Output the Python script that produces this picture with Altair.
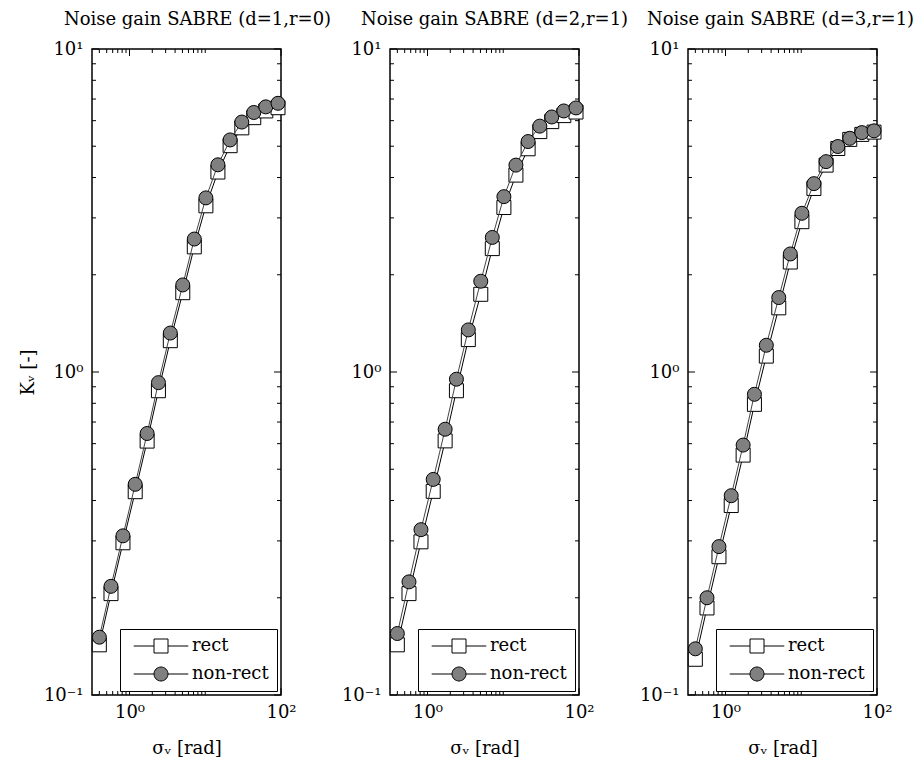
import altair as alt
import pandas as pd

# ---------------- data ----------------
x_vals = [0.40, 0.57, 0.82, 1.19, 1.71, 2.41, 3.46, 5.05, 7.17, 10.2,
          14.7, 21.3, 30.4, 43.7, 63.0, 91.3]

titles = ["Noise gain SABRE (d=1,r=0)",
          "Noise gain SABRE (d=2,r=1)",
          "Noise gain SABRE (d=3,r=1)"]

p1_rect = [0.143, 0.206, 0.296, 0.426, 0.611, 0.875, 1.25, 1.76, 2.44, 3.27,
           4.16, 5.02, 5.70, 6.13, 6.43, 6.58]
p1_nonrect = [0.151, 0.217, 0.311, 0.449, 0.645, 0.927, 1.32, 1.86, 2.58, 3.46,
              4.38, 5.23, 5.94, 6.36, 6.62, 6.79]
p2_rect = [0.143, 0.206, 0.298, 0.427, 0.612, 0.875, 1.26, 1.74, 2.41, 3.23,
           4.07, 4.91, 5.55, 5.96, 6.22, 6.38]
p2_nonrect = [0.155, 0.224, 0.325, 0.465, 0.665, 0.95, 1.35, 1.91, 2.61, 3.49,
              4.37, 5.17, 5.77, 6.16, 6.43, 6.57]
p3_rect = [0.129, 0.186, 0.268, 0.386, 0.553, 0.794, 1.12, 1.58, 2.19, 2.92,
           3.70, 4.37, 4.92, 5.25, 5.44, 5.53]
p3_nonrect = [0.139, 0.200, 0.288, 0.414, 0.594, 0.853, 1.21, 1.70, 2.32, 3.10,
              3.83, 4.48, 4.99, 5.29, 5.51, 5.58]

series_names = ["rect", "non-rect"]

# tick positions
y_major = [0.1, 1, 10]
y_minor = [0.2, 0.3, 0.4, 0.5, 0.6, 0.7, 0.8, 0.9, 2, 3, 4, 5, 6, 7, 8, 9]
x_major = [1, 100]
x_minor = [0.4, 0.5, 0.6, 0.7, 0.8, 0.9, 2, 3, 4, 5, 6, 7, 8, 9, 10]

# ---------------- styling ----------------
FONT = "DejaVu Serif"
W, H = 189, 646
MAJ, MIN = 7, 4
TITLE_DX = [11, 10, -2]

path_rect = "M-3.9,0H-1M1,0H3.9M-1,-1H1V1H-1Z"
path_circ = "M-3.9,0H-1M1,0H3.9M1,0A1,1,0,1,1,-1,0A1,1,0,1,1,1,0Z"


def panel(idx, title, rect, nonrect, show_ytitle):
    df = pd.DataFrame({
        "x": x_vals + x_vals,
        "y": rect + nonrect,
        "series": ["rect"] * len(x_vals) + ["non-rect"] * len(x_vals),
    })
    xs = alt.Scale(type="log", domain=[0.32, 100], nice=False)
    ys = alt.Scale(type="log", domain=[0.1, 10], nice=False)
    xenc = alt.X("x:Q", scale=xs, axis=alt.Axis(
        values=x_major, grid=False, ticks=False, domain=False,
        labelExpr="datum.value < 10 ? '10⁰' : '10²'",
        labelFont=FONT, labelFontSize=18, labelColor="black",
        labelFlush=False, labelOverlap=False, labelPadding=8,
        title="σᵥ [rad]", titleFont=FONT, titleFontSize=18,
        titleFontWeight="normal", titleColor="black", titlePadding=18))
    yenc = alt.Y("y:Q", scale=ys, axis=alt.Axis(
        values=y_major, grid=False, ticks=False, domain=False,
        labelExpr="datum.value > 5 ? '10¹' : (datum.value > 0.5 ? '10⁰' : '10⁻¹')",
        labelFont=FONT, labelFontSize=18, labelColor="black",
        labelFlush=False, labelOverlap=False, labelPadding=9,
        title="Kᵥ [-]" if show_ytitle else None,
        titleFont=FONT, titleFontSize=18, titleFontWeight="normal",
        titleColor="black", titlePadding=6))

    base = alt.Chart(df)
    rect_line = base.transform_filter("datum.series == 'rect'").mark_line(
        color="black", strokeWidth=1).encode(x=xenc, y=yenc)
    rect_pts = base.transform_filter("datum.series == 'rect'").mark_point(
        shape="square", filled=True, fill="white", stroke="black",
        strokeWidth=1, size=196, opacity=1).encode(x=xenc, y=yenc)
    nr_line = base.transform_filter("datum.series == 'non-rect'").mark_line(
        color="#444444", strokeWidth=1).encode(x=xenc, y=yenc)
    nr_pts = base.transform_filter("datum.series == 'non-rect'").mark_point(
        shape="circle", filled=True, fill="#808080", stroke="black",
        strokeWidth=1, size=196, opacity=1).encode(x=xenc, y=yenc)

    leg = alt.Legend(
        title=None, orient="bottom-right", offset=4, padding=8,
        strokeColor="black", fillColor="white",
        labelFont=FONT, labelFontSize=18, labelColor="black",
        labelExpr="datum.label + '\u00a0'",
        symbolOffset=24, labelOffset=22, rowPadding=10,
        symbolStrokeColor="black", symbolStrokeWidth=1, symbolSize=196)
    legend_layer = base.transform_filter("false").mark_point(
        filled=False, size=196, strokeWidth=1, opacity=1
    ).encode(
        x=xenc, y=yenc,
        shape=alt.Shape("series:N", scale=alt.Scale(
            domain=series_names, range=[path_rect, path_circ]), legend=leg),
        fill=alt.Fill("series:N", scale=alt.Scale(
            domain=series_names, range=["white", "#808080"]), legend=leg),
        stroke=alt.Stroke("series:N", scale=alt.Scale(
            domain=series_names, range=["black", "black"]), legend=leg),
    )

    def tick_layer(vals, field, enc, length, side):
        d = pd.DataFrame({field: vals})
        c = alt.Chart(d).mark_rule(color="black", strokeWidth=1)
        if field == "y":
            if side == "left":
                return c.encode(y=enc, x=alt.value(0), x2=alt.value(length))
            return c.encode(y=enc, x=alt.value(W - length), x2=alt.value(W))
        if side == "bottom":
            return c.encode(x=enc, y=alt.value(H), y2=alt.value(H - length))
        return c.encode(x=enc, y=alt.value(0), y2=alt.value(length))

    ticks = [
        tick_layer(y_major, "y", yenc, MAJ, "left"),
        tick_layer(y_major, "y", yenc, MAJ, "right"),
        tick_layer(y_minor, "y", yenc, MIN, "left"),
        tick_layer(y_minor, "y", yenc, MIN, "right"),
        tick_layer(x_major, "x", xenc, MAJ, "bottom"),
        tick_layer(x_major, "x", xenc, MAJ, "top"),
        tick_layer(x_minor, "x", xenc, MIN, "bottom"),
        tick_layer(x_minor, "x", xenc, MIN, "top"),
    ]

    return alt.layer(*ticks, rect_line, rect_pts, nr_line, nr_pts, legend_layer).properties(
        width=W, height=H,
        title=alt.TitleParams(title, font=FONT, fontSize=18, fontWeight="normal",
                              color="black", offset=11, dx=TITLE_DX[idx]),
    )


chart = alt.hconcat(
    panel(0, titles[0], p1_rect, p1_nonrect, True),
    panel(1, titles[1], p2_rect, p2_nonrect, False),
    panel(2, titles[2], p3_rect, p3_nonrect, False),
    spacing=109, bounds="flush",
).resolve_scale(shape="independent", fill="independent", stroke="independent",
                x="independent", y="independent"
).resolve_legend(shape="independent", fill="independent", stroke="independent"
).properties(padding={"left": 10, "top": 2, "right": 0, "bottom": 2},
             background="white"
).configure_view(stroke="black", strokeWidth=1.5)

chart.save("out.html", embed_options={"renderer": "svg", "actions": False})
